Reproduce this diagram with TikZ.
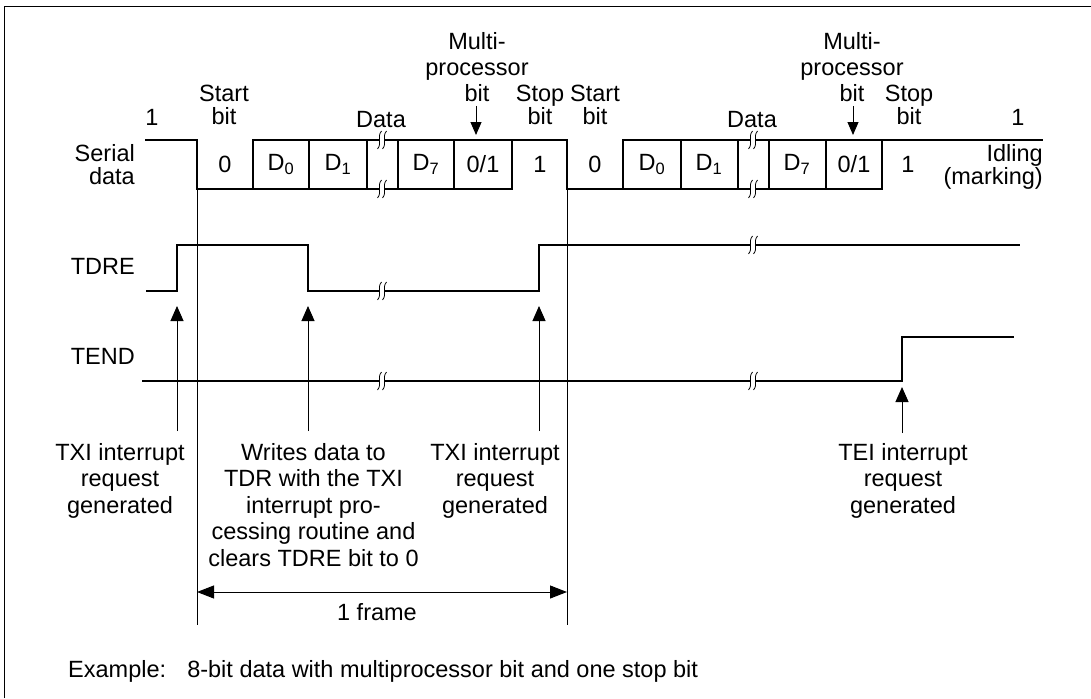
\documentclass[tikz,border=0pt]{standalone}
\usepackage{fontspec}
\setmainfont{Liberation Sans}
\usetikzlibrary{arrows.meta,positioning,calc}
\tikzset{
  lbl/.style={font=\fontsize{23.5}{23}\selectfont,inner sep=0pt,align=center},
  mplbl/.style={lbl,font=\fontsize{23.5}{26}\selectfont},
  note/.style={font=\fontsize{23.5}{26.5}\selectfont,inner sep=0pt,align=center,anchor=north},
  wave/.style={line width=1.2pt},
  flag/.style={line width=2pt},
  guide/.style={line width=0.9pt},
  uparr/.style={-{Triangle[length=15pt,width=13pt]},line width=1pt},
  dnarr/.style={-{Triangle[length=13pt,width=11pt]},line width=1pt},
  spanarr/.style={{Triangle[length=17pt,width=13pt]}-{Triangle[length=17pt,width=13pt]},line width=1pt},
}
% break mark on a line at (x,y)
\newcommand{\brk}[2]{%
  \fill[white] (#1-3,#2-2.5) rectangle (#1+3,#2+2.5);
  \foreach \d in {-2.5,2.5}
    \draw[line width=0.8pt] (#1+\d-2,#2+9) .. controls (#1+\d+3,#2+3) and (#1+\d-3,#2-3) .. (#1+\d+2,#2-9);
}
\begin{document}
\begin{tikzpicture}[x=1pt,y=-1pt]
  \useasboundingbox (0,0) rectangle (1091,698);
  \draw[guide] (4,698) -- (4,6) -- (1091,6);

  % frame guides
  \draw[guide] (197,189) -- (197,625);
  \draw[guide] (567,189) -- (567,625);

  % serial data
  \draw[wave] (145,140) -- (197,140) -- (197,189) -- (512,189) -- (512,140);
  \draw[wave] (253,189) -- (253,140) -- (567,140) -- (567,189) -- (882,189) -- (882,140);
  \draw[wave] (623,189) -- (623,140) -- (1043,140);
  \foreach \x in {309,367,398,454,681,738,769,826} \draw[wave] (\x,140) -- (\x,189);
  \brk{382}{140} \brk{382}{189} \brk{753}{140} \brk{753}{189}

  % TDRE and TEND
  \draw[flag] (146,291) -- (177,291) -- (177,245) -- (308,245) -- (308,291) -- (539,291) -- (539,245) -- (1020,245);
  \draw[flag] (142,381) -- (902,381) -- (902,337) -- (1014,337);
  \brk{382}{291} \brk{753}{245} \brk{382}{381} \brk{753}{381}

  % labels above the waveform
  \node[lbl] (one1) at (152,117) {1};
  \node[lbl] (one2) at (1018,117) {1};
  \node[lbl,align=right,anchor=east] (ser) at (135,165) {Serial\\data};
  \node[lbl] (st1) at (224,105) {Start\\bit};
  \node[lbl] (st2) at (595,105) {Start\\bit};
  \node[lbl] (dat1) at (381,120) {Data};
  \node[lbl] (dat2) at (752,120) {Data};
  \node[mplbl] (mp1) at (477,67) {Multi-\\processor\\bit};
  \node[mplbl] (mp2) at (852,67) {Multi-\\processor\\bit};
  \node[lbl] (sp1) at (540,105) {Stop\\bit};
  \node[lbl] (sp2) at (909,105) {Stop\\bit};
  \node[lbl,align=right,anchor=east] (idle) at (1043,167) {Idling\\(marking)};

  % bit values
  \foreach \x/\t in {225/0,281/D\textsubscript{0},338/D\textsubscript{1},426/D\textsubscript{7},483/{0/1},540/1,
                     595/0,652/D\textsubscript{0},709/D\textsubscript{1},797/D\textsubscript{7},854/{0/1},908/1}
    \node[lbl] at (\x,164.5) {\t};

  \draw[dnarr] (476,106) -- (476,135);
  \draw[dnarr] (853,106) -- (853,135);

  % signal names
  \node[lbl,anchor=east] (tdre) at (135,266) {TDRE};
  \node[lbl,anchor=east] (tend) at (135,356) {TEND};

  % event arrows
  \coordinate (e1) at (177,306); \coordinate (b1) at (177,431);
  \coordinate (e2) at (308,306); \coordinate (b2) at (308,431);
  \coordinate (e3) at (539,306); \coordinate (b3) at (539,431);
  \coordinate (e4) at (902,387); \coordinate (b4) at (902,433);
  \foreach \i in {1,...,4} \draw[uparr] (b\i) -- (e\i);

  % notes
  \node[note] (txi1) at (120,443) {TXI interrupt\\request\\generated};
  \node[note] (wr) at (313.5,443) {Writes data to\\TDR with the TXI\\interrupt pro-\\cessing routine and\\clears TDRE bit to 0};
  \node[note] (txi2) at (495,443) {TXI interrupt\\request\\generated};
  \node[note] (tei) at (903,443) {TEI interrupt\\request\\generated};

  % frame length
  \coordinate (fl) at (197,592); \coordinate (fr) at (567,592);
  \draw[spanarr] (fl) -- (fr);
  \node[lbl] (frm) at (377,612) {1 frame};

  \node[lbl,anchor=west] (ex) at (68,671) {Example:\hspace{0.9em}8-bit data with multiprocessor bit and one stop bit};
\end{tikzpicture}
\end{document}
